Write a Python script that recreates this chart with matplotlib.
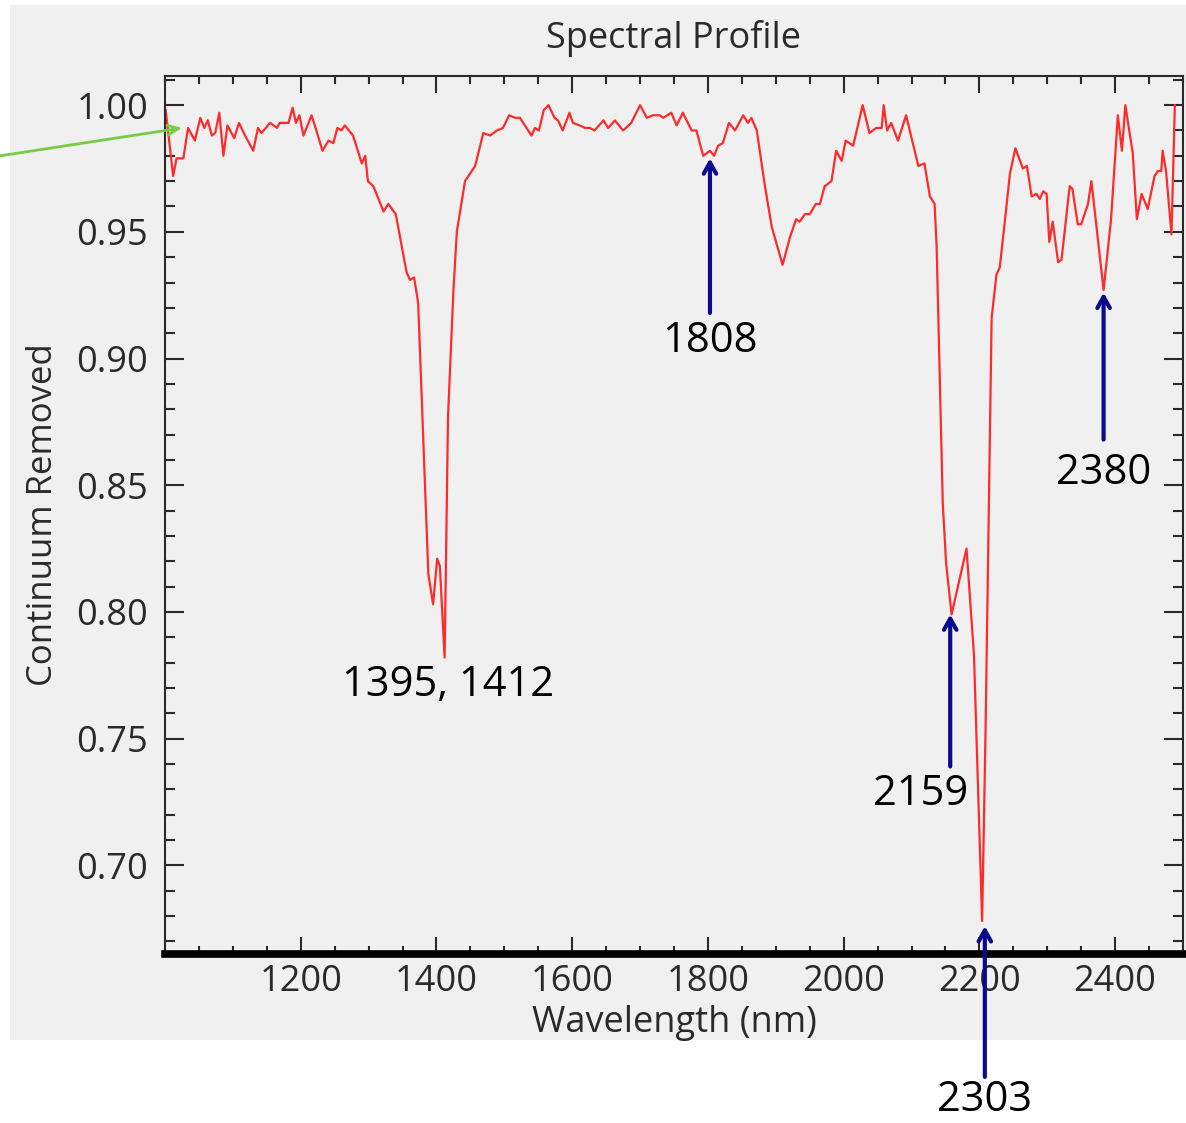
import matplotlib.pyplot as plt
import numpy as np
from matplotlib.patches import Rectangle
from matplotlib.ticker import MultipleLocator

# Spectrum (wavelength nm, continuum removed)
wavelength = [1001, 1012, 1017, 1027, 1034, 1044, 1052, 1058, 1063, 1069,
              1074, 1080, 1086, 1092, 1102, 1109, 1118, 1130, 1137, 1142,
              1155, 1165, 1169, 1182, 1188, 1193, 1198, 1204, 1216, 1223,
              1232, 1241, 1248, 1254, 1260, 1265, 1277, 1290, 1295, 1299,
              1307, 1322, 1329, 1340, 1356, 1361, 1367, 1373, 1388, 1395,
              1401, 1405, 1412, 1417, 1425, 1430, 1442, 1457, 1469, 1479,
              1489, 1498, 1507, 1516, 1523, 1540, 1545, 1551, 1558, 1565,
              1574, 1579, 1586, 1596, 1601, 1611, 1619, 1626, 1633, 1646,
              1653, 1663, 1675, 1687, 1700, 1710, 1719, 1729, 1734, 1746,
              1754, 1763, 1776, 1783, 1793, 1803, 1809, 1815, 1822, 1831,
              1840, 1852, 1859, 1864, 1872, 1884, 1894, 1910, 1921, 1930,
              1935, 1943, 1950, 1959, 1965, 1972, 1982, 1989, 1997, 2003,
              2014, 2028, 2038, 2048, 2056, 2059, 2064, 2070, 2080, 2092,
              2110, 2119, 2127, 2134, 2137, 2146, 2151, 2159, 2181, 2192,
              2204, 2209, 2214, 2218, 2225, 2230, 2237, 2245, 2253, 2264,
              2270, 2277, 2284, 2289, 2294, 2299, 2303, 2308, 2316, 2321,
              2333, 2337, 2345, 2350, 2360, 2365, 2383, 2394, 2404, 2410,
              2415, 2426, 2432, 2439, 2448, 2458, 2463, 2468, 2470, 2475,
              2483, 2488]
reflect = [0.998, 0.972, 0.979, 0.979, 0.991, 0.986, 0.995, 0.991, 0.994, 0.988,
           0.989, 0.997, 0.980, 0.992, 0.987, 0.993, 0.988, 0.982, 0.991, 0.989,
           0.993, 0.991, 0.993, 0.993, 0.999, 0.993, 0.996, 0.988, 0.996, 0.990,
           0.982, 0.986, 0.985, 0.991, 0.990, 0.992, 0.988, 0.977, 0.980, 0.970,
           0.968, 0.958, 0.961, 0.957, 0.934, 0.931, 0.932, 0.922, 0.815, 0.803,
           0.821, 0.818, 0.782, 0.877, 0.927, 0.950, 0.970, 0.976, 0.989, 0.988,
           0.990, 0.991, 0.996, 0.995, 0.995, 0.988, 0.991, 0.990, 0.998, 1.000,
           0.995, 0.994, 0.990, 0.997, 0.993, 0.992, 0.991, 0.991, 0.990, 0.994,
           0.991, 0.994, 0.990, 0.993, 1.000, 0.995, 0.996, 0.996, 0.995, 0.997,
           0.992, 0.997, 0.990, 0.990, 0.980, 0.982, 0.980, 0.984, 0.985, 0.993,
           0.990, 0.996, 0.993, 0.995, 0.990, 0.968, 0.952, 0.937, 0.948, 0.955,
           0.954, 0.957, 0.957, 0.961, 0.961, 0.968, 0.970, 0.982, 0.978, 0.986,
           0.984, 1.000, 0.989, 0.991, 0.991, 1.000, 0.990, 0.993, 0.986, 0.996,
           0.976, 0.977, 0.964, 0.961, 0.944, 0.843, 0.819, 0.799, 0.825, 0.783,
           0.678, 0.752, 0.844, 0.916, 0.933, 0.936, 0.953, 0.973, 0.983, 0.975,
           0.976, 0.964, 0.965, 0.963, 0.966, 0.965, 0.946, 0.954, 0.938, 0.939,
           0.968, 0.967, 0.953, 0.953, 0.961, 0.970, 0.927, 0.955, 0.996, 0.982,
           1.000, 0.981, 0.955, 0.965, 0.959, 0.972, 0.974, 0.974, 0.982, 0.974,
           0.949, 1.000]

# Annotated absorption features: label, arrow tip (x, y), arrow tail y, text (x, y)
labels = ["1808", "2159", "2303", "2380"]
tip_x = [1803, 2157, 2208, 2383]
tip_y = [0.979, 0.799, 0.676, 0.926]
tail_y = [0.918, 0.739, 0.6165, 0.868]
text_x = [1803, 2113, 2208, 2383]
text_y = [0.907, 0.728, 0.6075, 0.855]
doublet_label = "1395, 1412"

panel = '#f0f0f0'
navy = '#0a0a8c'
grey = '#2a2a2a'

fig = plt.figure(figsize=(11.86, 11.23), dpi=100, facecolor='white')
fig.patches.append(Rectangle((10/1186, 1 - 1040/1123), 1, 1035/1123,
                             transform=fig.transFigure, facecolor=panel,
                             edgecolor='none', zorder=-10))
ax = fig.add_axes([165/1186, 1 - 954/1123, 1018/1186, 878/1123])
ax.set_facecolor(panel)

ax.plot(wavelength, reflect, color='#ff2a2a', lw=1.6)

ax.set_xlim(1000, 2500)
ax.set_ylim(0.665, 1.0115)
ax.xaxis.set_major_locator(MultipleLocator(200))
ax.xaxis.set_minor_locator(MultipleLocator(50))
ax.yaxis.set_major_locator(MultipleLocator(0.05))
ax.yaxis.set_minor_locator(MultipleLocator(0.01))
ax.set_xticks([1200, 1400, 1600, 1800, 2000, 2200, 2400])
ax.yaxis.set_major_formatter(plt.FormatStrFormatter('%.2f'))

font = 'Open Sans'
ax.tick_params(axis='both', which='both', direction='in', top=True, right=True,
               colors=grey, width=1.5, labelsize=26)
ax.tick_params(axis='y', which='major', length=14, pad=12)
ax.tick_params(axis='y', which='minor', length=7)
ax.tick_params(axis='x', which='major', length=12, pad=7)
ax.tick_params(axis='x', which='minor', length=6)
for lab in ax.get_xticklabels() + ax.get_yticklabels():
    lab.set_fontfamily(font)

for side in ['left', 'top', 'right']:
    ax.spines[side].set_color(grey)
    ax.spines[side].set_linewidth(1.5)
ax.spines['bottom'].set_color('black')
ax.spines['bottom'].set_linewidth(5.5)

ax.set_title('Spectral Profile', fontsize=26, color=grey, family=font, pad=20)
ax.set_xlabel('Wavelength (nm)', fontsize=26, color=grey, family=font, labelpad=4)
ax.set_ylabel('Continuum Removed', fontsize=25, color=grey, family=font, labelpad=12)

# annotations
ann_font = dict(fontsize=30, color='black', family=font, ha='center',
                va='center', annotation_clip=False)
for lab, x, y, ty, tx, tyt in zip(labels, tip_x, tip_y, tail_y, text_x, text_y):
    ax.annotate('', xy=(x, y), xytext=(x, ty), annotation_clip=False,
                arrowprops=dict(arrowstyle='->, head_length=0.8, head_width=0.45',
                                color=navy, lw=3, shrinkA=0, shrinkB=0))
    ax.annotate(lab, xy=(tx, tyt), **ann_font)
ax.annotate(doublet_label, xy=(1417, 0.771), **ann_font)

# green pointer from the left edge
ax.annotate('', xy=(1025, 0.991), xytext=(757, 0.980), annotation_clip=False,
            arrowprops=dict(arrowstyle='->, head_length=0.8, head_width=0.35',
                            color='#77cc44', lw=2, shrinkA=0, shrinkB=0))

plt.savefig('out.png', dpi=100, facecolor='white')
